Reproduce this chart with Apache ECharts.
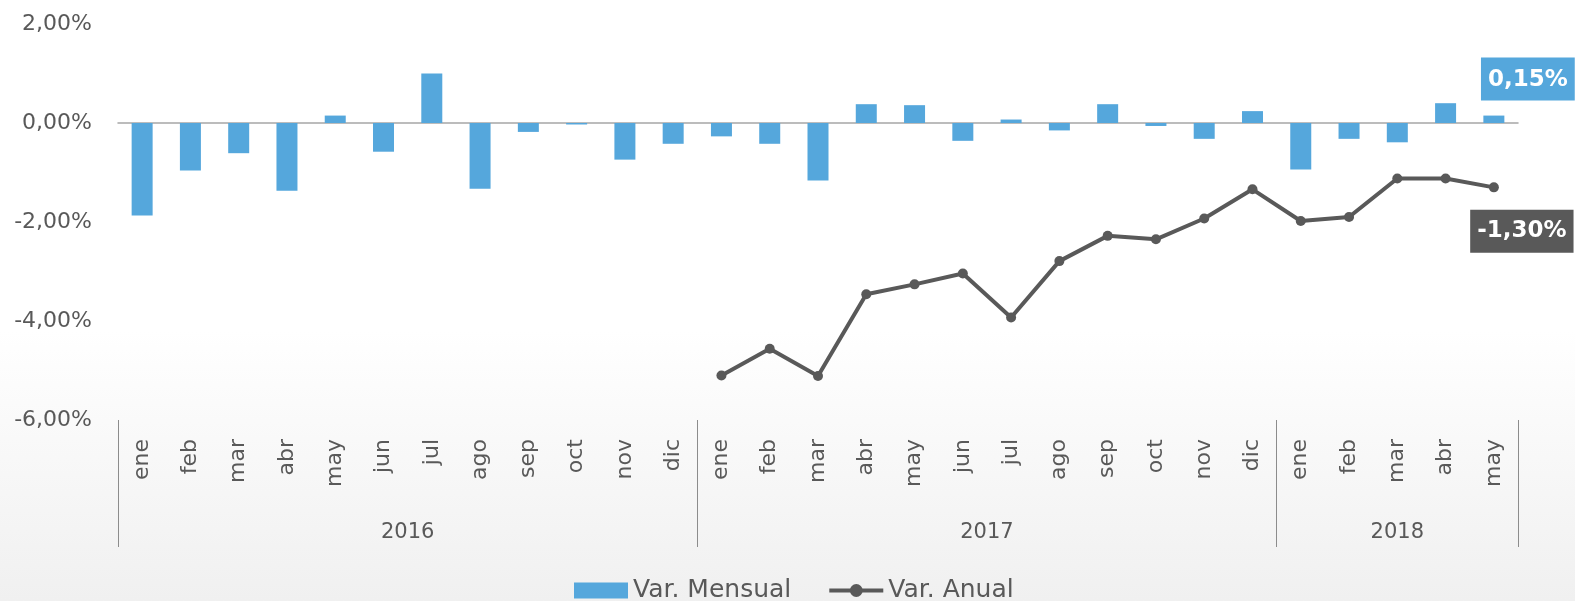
<!DOCTYPE html>
<html>
<head>
<meta charset="utf-8">
<script src="https://cdn.jsdelivr.net/npm/echarts@6/dist/echarts.min.js"></script>
<style>
  html, body { margin: 0; padding: 0; }
  #chart { width: 1575px; height: 601px; }
</style>
</head>
<body>
<div id="chart"></div>
<script>
// meses (2016 ene .. 2018 may)
const months = ['ene', 'feb', 'mar', 'abr', 'may', 'jun', 'jul', 'ago', 'sep', 'oct', 'nov', 'dic',
  'ene', 'feb', 'mar', 'abr', 'may', 'jun', 'jul', 'ago', 'sep', 'oct', 'nov', 'dic',
  'ene', 'feb', 'mar', 'abr', 'may'];
const years = ['2016', '2017', '2018'];
const yearBounds = [0, 12, 24, 29]; // limites de cada año en nº de meses
const yearCenters = [6, 18, 26.5];

// Var. Mensual (%)
const varMensual = [-1.87, -0.96, -0.61, -1.37, 0.15, -0.58, 1.00, -1.33, -0.18, -0.03, -0.74, -0.42,
  -0.27, -0.42, -1.16, 0.38, 0.36, -0.36, 0.07, -0.15, 0.38, -0.06, -0.32, 0.24,
  -0.94, -0.32, -0.39, 0.40, 0.15];
// Var. Anual (%)
const varAnual = [null, null, null, null, null, null, null, null, null, null, null, null,
  -5.10, -4.56, -5.11, -3.46, -3.26, -3.04, -3.93, -2.79, -2.28, -2.35, -1.93, -1.34,
  -1.98, -1.90, -1.12, -1.12, -1.30];
const yTicks = [-6, -4, -2, 0, 2];

const FONT = 'DejaVu Sans';
const TXT = '#595959';
const BLUE = '#55a7dc';
const GREY = '#595959';

const fmtPct = v => v.toFixed(2).replace('.', ',') + '%';
const last = months.length - 1;

const chart = echarts.init(document.getElementById('chart'));

// caja con el ultimo valor
const boxLabel = (bg, offset, position) => ({
  show: true,
  position: position,
  offset: offset,
  formatter: p => fmtPct(p.value),
  backgroundColor: bg,
  color: '#fff',
  fontFamily: FONT,
  fontWeight: 'bold',
  fontSize: 23,
  lineHeight: 26,
  padding: [9, 7, 8, 7]
});

const barData = varMensual.map((v, i) => i !== last ? v : { value: v, label: boxLabel(BLUE, [34, -10], 'top') });
const lineData = varAnual.map((v, i) => i !== last ? v : { value: v, label: boxLabel(GREY, [28, 44], 'inside') });

chart.setOption({
  backgroundColor: {
    type: 'linear', x: 0, y: 0, x2: 0, y2: 1,
    colorStops: [
      { offset: 0, color: '#ffffff' },
      { offset: 0.55, color: '#ffffff' },
      { offset: 1, color: '#f0f0f0' }
    ]
  },
  textStyle: { fontFamily: FONT },
  animation: false,
  grid: { left: 118, right: 57, top: 24, bottom: 181, containLabel: false },
  legend: {
    left: 569,
    top: 573,
    itemGap: 36,
    itemWidth: 54,
    itemHeight: 16,
    textStyle: { fontFamily: FONT, fontSize: 25, color: TXT },
    data: [
      { name: 'Var. Mensual', icon: 'rect' },
      { name: 'Var. Anual', itemStyle: { borderWidth: 0 }, lineStyle: { width: 4 } }
    ]
  },
  xAxis: [
    {
      // eje en el cero
      type: 'category',
      data: months,
      axisLine: { onZero: true, lineStyle: { color: '#a6a6a6', width: 1.5 } },
      axisTick: { length: 7, interval: 0, lineStyle: { color: '#a6a6a6' } },
      axisLabel: { show: false },
      splitLine: { show: false }
    },
    {
      // etiquetas de meses abajo
      type: 'category',
      data: months,
      position: 'bottom',
      offset: 0,
      axisLine: { show: false, onZero: false },
      axisTick: { length: 77, interval: 0, lineStyle: { color: '#8c8c8c' } },
      axisLabel: {
        interval: 0,
        rotate: 90,
        margin: 19,
        fontFamily: FONT,
        fontSize: 22,
        color: TXT
      }
    },
    {
      // años
      type: 'value',
      min: 0,
      max: months.length,
      position: 'bottom',
      offset: 0,
      axisLine: { show: false, onZero: false },
      splitLine: { show: false },
      axisTick: { show: true, customValues: yearBounds, length: 127, lineStyle: { color: '#8c8c8c' } },
      axisLabel: {
        customValues: yearCenters,
        margin: 102,
        fontFamily: FONT,
        fontSize: 21,
        color: TXT,
        formatter: v => years[yearCenters.indexOf(v)]
      }
    }
  ],
  yAxis: {
    type: 'value',
    min: yTicks[0],
    max: yTicks[yTicks.length - 1],
    interval: 2,
    axisLine: { show: false },
    axisTick: { show: false },
    splitLine: { show: false },
    axisLabel: {
      margin: 26,
      fontFamily: FONT,
      fontSize: 22,
      color: TXT,
      formatter: fmtPct
    }
  },
  series: [
    {
      name: 'Var. Mensual',
      type: 'bar',
      xAxisIndex: 0,
      barWidth: 21,
      itemStyle: { color: BLUE },
      data: barData
    },
    {
      name: 'Var. Anual',
      type: 'line',
      xAxisIndex: 0,
      symbol: 'circle',
      symbolSize: 10,
      showAllSymbol: true,
      connectNulls: false,
      lineStyle: { color: GREY, width: 4 },
      itemStyle: { color: GREY },
      data: lineData
    }
  ]
});
</script>
</body>
</html>
